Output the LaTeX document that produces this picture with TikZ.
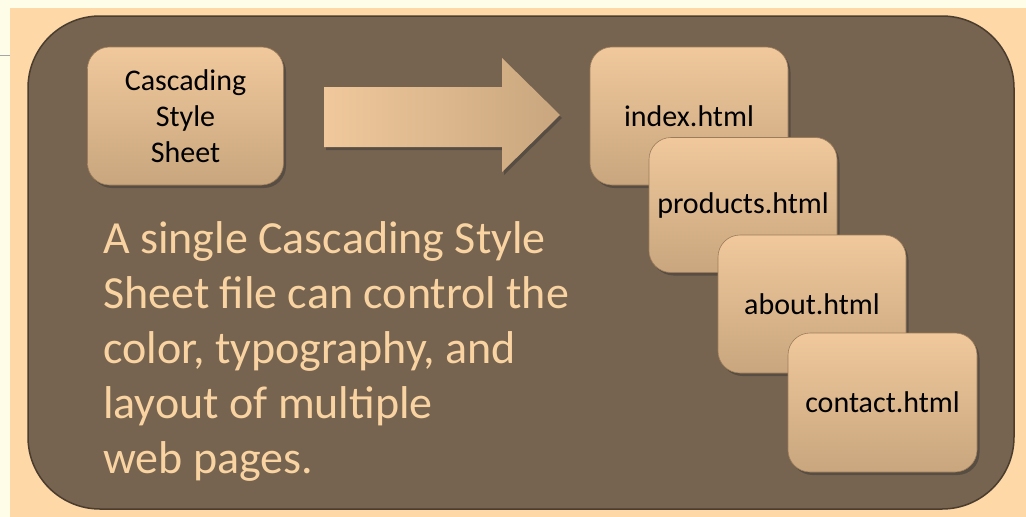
\documentclass[tikz,border=0pt]{standalone}
\usepackage{fontspec}
\setmainfont{Carlito}
\usetikzlibrary{shadows}
\definecolor{cream}{HTML}{FDFDE8}
\definecolor{peach}{HTML}{FED8A6}
\definecolor{panel}{HTML}{766450}
\definecolor{panelline}{HTML}{4A3C2E}
\definecolor{boxtop}{HTML}{F0C89C}
\definecolor{boxbot}{HTML}{C9A67E}
\definecolor{boxedge}{HTML}{9C7C5A}
\definecolor{maintext}{HTML}{F9D4A2}
\tikzset{
  page/.style={rounded corners=22pt, top color=boxtop, bottom color=boxbot,
    draw=boxedge, line width=0.6pt, inner sep=0pt, align=center,
    font=\fontsize{30}{36}\selectfont, text=black,
    drop shadow={shadow xshift=2.5pt, shadow yshift=-3pt, opacity=0.45, fill=black!80}},
}
\begin{document}
\begin{tikzpicture}[x=1pt,y=-1pt]
\useasboundingbox (0,0) rectangle (1026,517);
\fill[cream] (0,0) rectangle (1026,517);
\fill[peach] (10,8) rectangle (1026,517);
\draw[gray!70, line width=0.8pt] (0,55) -- (10,55);
\draw[fill=panel, draw=panelline, line width=1.5pt, rounded corners=72pt] (28,16) rectangle (1014,509);
% block arrow
\draw[draw=none, left color=boxtop, right color=boxbot,
  drop shadow={shadow xshift=2pt, shadow yshift=-3pt, opacity=0.45, fill=black!80}]
  (324,87) -- (502,87) -- (502,58) -- (560,115) -- (502,172) -- (502,147) -- (324,147) -- cycle;
\node[page, minimum width=196pt, minimum height=138pt] (css) at (185.5,116) {Cascading\\Style\\Sheet};
\node[page, minimum width=198pt, minimum height=138pt] (index) at (689,116) {index.html};
\node[page, minimum width=188pt, minimum height=135pt] (products) at (743,205) {products.html};
\node[page, minimum width=188pt, minimum height=138pt] (about) at (812,304) {about.html};
\node[page, minimum width=189pt, minimum height=139pt] (contact) at (882.5,402.5) {contact.html};
\node[anchor=north west, inner sep=0pt, align=left, text=maintext,
  font=\fontsize{46}{55}\selectfont] (desc) at (103,221)
  {A single Cascading Style\\Sheet file can control the\\color, typography, and\\layout of multiple\\web pages.};
\end{tikzpicture}
\end{document}
